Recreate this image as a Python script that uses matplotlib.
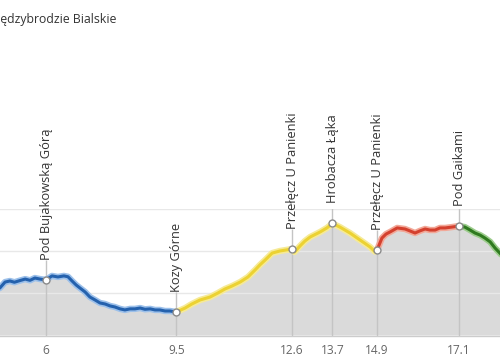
import matplotlib
matplotlib.use("Agg")
import matplotlib.pyplot as plt
import numpy as np

plt.rcParams['font.family'] = ['Open Sans', 'DejaVu Sans']

title = "Międzybrodzie Bialskie"

# profile: distance [km], elevation [m a.s.l.]
dist = [4.70, 4.76, 4.90, 5.03, 5.15, 5.30, 5.44, 5.57, 5.70, 5.84, 6.00,
        6.16, 6.32, 6.48, 6.59, 6.70, 6.81, 6.91, 7.05, 7.18, 7.32, 7.45,
        7.59, 7.72, 7.85, 7.99, 8.12, 8.26, 8.39, 8.53, 8.66, 8.80, 8.93,
        9.06, 9.20, 9.33, 9.50,
        9.74, 9.92, 10.14, 10.41, 10.62, 10.81, 11.00, 11.22, 11.43, 11.62,
        11.75, 11.89, 12.08, 12.29, 12.60, 12.68, 12.83, 12.96, 13.10, 13.37,
        13.55, 13.70, 13.90, 14.17, 14.44, 14.71, 14.84, 14.90,
        15.03, 15.14, 15.25, 15.44, 15.65, 15.78, 15.92, 16.05, 16.19, 16.32,
        16.46, 16.59, 16.73, 16.91, 17.10,
        17.26, 17.40, 17.53, 17.67, 17.80, 17.94, 18.07, 18.20, 18.30]
ele = [520, 525, 553, 558, 552, 560, 567, 561, 572, 567, 563,
       582, 577, 582, 578, 558, 539, 525, 506, 482, 468, 454,
       449, 440, 435, 426, 421, 426, 426, 430, 424, 426, 421,
       421, 416, 416, 411,
       430, 449, 468, 482, 501, 520, 534, 553, 577, 610,
       634, 657, 690, 700, 709, 695, 724, 747, 766, 790,
       809, 830, 813, 785, 752, 719, 697, 705,
       761, 780, 790, 809, 804, 795, 785, 795, 804, 799,
       799, 809, 809, 813, 818,
       813, 799, 785, 775, 761, 743, 714, 690, 670]

# coloured sections (start km, end km, colour, halo)
sec_start = [4.70, 9.50, 14.90, 17.10]
sec_end = [9.50, 14.90, 17.10, 18.30]
sec_color = ['#2461ad', '#ecd232', '#d4402e', '#2f7a1f']
sec_halo = ['#9cc0ea', '#f6ea96', '#f2a898', '#9ccc8c']

# waypoints
wp_km = [6.0, 9.5, 12.6, 13.7, 14.9, 17.1]
wp_names = ["Pod Bujakowską Górą", "Kozy Górne", "Przełęcz U Panienki",
            "Hrobacza Łąka", "Przełęcz U Panienki", "Pod Gaikami"]
wp_ticks = ["6", "9.5", "12.6", "13.7", "14.9", "17.1"]

dist = np.array(dist)
ele = np.array(ele)

fig = plt.figure(figsize=(5, 3.6), dpi=100)
ax = fig.add_axes([0, 24.5 / 360, 1, 126.8 / 360])
ax.set_xlim(4.763, 18.204)
ax.set_ylim(300, 900)

ax.fill_between(dist, ele, 300, color='#dadada', lw=0, zorder=1)
for yv in [500, 700, 900]:
    ax.axhline(yv, color='#e8e8e8', lw=1, zorder=2)

# 1 px = 600 / 126.8 m on this axis; labels sit 20 px above the marker
px_m = 600 / 126.8
wp_ele = np.interp(wp_km, dist, ele)
ax.vlines(wp_km, 300, wp_ele + 20 * px_m, color='#c4c4c4', lw=1, zorder=2)

for s, e, c, h in zip(sec_start, sec_end, sec_color, sec_halo):
    m = (dist >= s) & (dist <= e)
    ax.plot(dist[m], ele[m], color=h, lw=4.6, solid_capstyle='round', zorder=3)
    ax.plot(dist[m], ele[m], color=c, lw=2.2, solid_capstyle='round', zorder=4)

ax.plot(wp_km, wp_ele, 'o', ms=5, mfc='white', mec='#8a8a8a', mew=1, zorder=5)

for k, y, name in zip(wp_km, wp_ele, wp_names):
    ax.annotate(name, xy=(k, y), xytext=(0.5, 20), textcoords='offset pixels',
                rotation=90, ha='center', va='bottom', fontsize=9.3,
                color='#333333', annotation_clip=False, zorder=6)

ax.set_xticks(wp_km)
ax.set_xticklabels(wp_ticks)
ax.set_yticks([])
ax.tick_params(axis='x', length=0, pad=6, labelsize=8.6, labelcolor='#666666')
for sp in ['top', 'left', 'right']:
    ax.spines[sp].set_visible(False)
ax.spines['bottom'].set_color('#cccccc')
ax.spines['bottom'].set_linewidth(1)
ax.spines['bottom'].set_zorder(5)

fig.text(-13.5 / 500, 1 - 20 / 360, title, fontsize=8.8, color='#333333',
         ha='left', va='center')

fig.savefig('out.png', dpi=100)
